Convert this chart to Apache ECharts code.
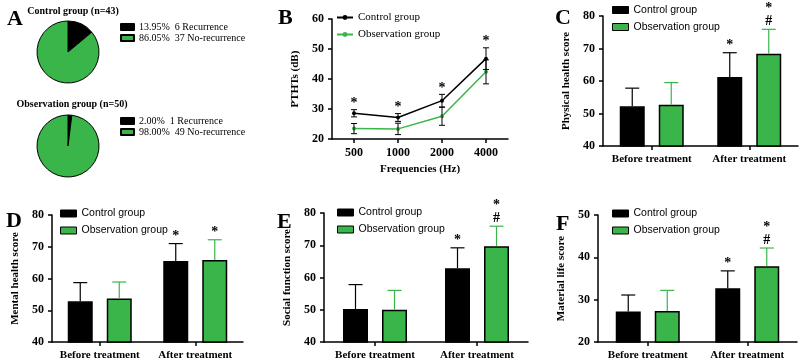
<!DOCTYPE html>
<html>
<head>
<meta charset="utf-8">
<script src="https://cdn.jsdelivr.net/npm/echarts@6/dist/echarts.min.js"></script>
<style>
html, body { margin: 0; padding: 0; background: #fff; }
#wrap { position: relative; width: 800px; height: 361px; overflow: hidden; }
.panel { position: absolute; }
</style>
</head>
<body>
<div id="wrap">
  <div id="pa" class="panel" style="left:0;top:0;width:270px;height:180px"></div>
  <div id="pb" class="panel" style="left:270px;top:0;width:250px;height:180px"></div>
  <div id="pc" class="panel" style="left:520px;top:0;width:280px;height:180px"></div>
  <div id="pd" class="panel" style="left:0;top:180px;width:265px;height:181px"></div>
  <div id="pe" class="panel" style="left:265px;top:180px;width:265px;height:181px"></div>
  <div id="pf" class="panel" style="left:530px;top:180px;width:270px;height:181px"></div>
</div>
<script>
// A - recurrence
const pieNames = ['Recurrence', 'No-recurrence']
const pieControl = [6, 37]
const pieObservation = [1, 49]

// B - PTHTs
const freqs = ['500', '1000', '2000', '4000']
const pthtControl = [28.6, 27.2, 32.8, 46.8]
const pthtControlSd = [1.2, 1.3, 2.1, 3.6]
const pthtObs = [23.5, 23.4, 27.6, 42.4]
const pthtObsSd = [1.7, 1.9, 3.0, 4.0]
const pthtSig = ['*', '*', '*', '*']

// C-F - quality of life scores
const stages = ['Before treatment', 'After treatment']
const physControl = [52.2, 61.2]
const physControlSd = [5.6, 7.5]
const physObs = [52.7, 68.4]
const physObsSd = [6.8, 7.5]
const physSigControl = ['', '*']
const physSigObs = ['', '*\n#']

const mentControl = [52.8, 65.5]
const mentControlSd = [5.9, 5.5]
const mentObs = [53.7, 65.8]
const mentObsSd = [5.2, 6.4]
const mentSigControl = ['', '*']
const mentSigObs = ['', '*']

const socControl = [50.2, 62.9]
const socControlSd = [7.6, 6.3]
const socObs = [50.0, 69.7]
const socObsSd = [6.0, 6.2]
const socSigControl = ['', '*']
const socSigObs = ['', '*\n#']

const matControl = [27.2, 32.7]
const matControlSd = [3.9, 4.1]
const matObs = [27.3, 37.9]
const matObsSd = [4.9, 4.3]
const matSigControl = ['', '*']
const matSigObs = ['', '*\n#']

const GREEN = '#39b54a'
const SERIF = '"Liberation Serif", "DejaVu Serif", serif'
const SANS = '"Liberation Sans", Arial, sans-serif'
const letterStyle = { fontFamily: SERIF, fontWeight: 'bold', fontSize: 22, color: '#000' }
const axisLine = { show: true, lineStyle: { color: '#000', width: 1.5 } }
const axisTick = { show: true, length: 4, lineStyle: { color: '#000', width: 1.5 } }
const boldLabel = { color: '#000', fontFamily: SERIF, fontWeight: 'bold', fontSize: 11 }
const tickLabel = { color: '#000', fontFamily: SERIF, fontWeight: 'bold', fontSize: 12 }

// ---------- A ----------
const pct = (arr, i) => (arr[i] / arr.reduce((a, b) => a + b, 0) * 100).toFixed(2) + '%'
const pieLegend = (arr, top) => ({
  left: 120,
  top: top,
  padding: 0,
  orient: 'vertical',
  icon: 'rect',
  itemWidth: 13,
  itemHeight: 6,
  itemGap: 1,
  data: pieNames,
  textStyle: { fontFamily: SERIF, fontSize: 10, color: '#000', lineHeight: 10 },
  formatter: name => {
    const i = pieNames.indexOf(name)
    return pct(arr, i) + '  ' + arr[i] + ' ' + name
  }
})
const pieSeries = (arr, cy) => ({
  type: 'pie',
  center: [68, cy],
  radius: 31,
  startAngle: 90,
  label: { show: false },
  labelLine: { show: false },
  silent: true,
  itemStyle: { borderColor: '#000', borderWidth: 1 },
  data: pieNames.map((n, i) => ({ name: n, value: arr[i], itemStyle: { color: i === 0 ? '#000' : GREEN } }))
})
const chartA = echarts.init(document.getElementById('pa'))
chartA.setOption({
  animation: false,
  title: [
    { text: 'A', left: 2, top: 3, textStyle: letterStyle },
    { text: 'Control group (n=43)', left: 68, textAlign: 'center', top: 1,
      textStyle: { fontFamily: SERIF, fontWeight: 'bold', fontSize: 10, color: '#000' } },
    { text: 'Observation group (n=50)', left: 67, textAlign: 'center', top: 94,
      textStyle: { fontFamily: SERIF, fontWeight: 'bold', fontSize: 10, color: '#000' } }
  ],
  legend: [pieLegend(pieControl, 22), pieLegend(pieObservation, 116)],
  series: [pieSeries(pieControl, 52), pieSeries(pieObservation, 146)]
})

// ---------- B ----------
const lineErr = (means, sds, color, sig) => ({
  type: 'custom',
  silent: true,
  z: 4,
  data: means.map((m, i) => [i, m, sds[i]]),
  encode: { x: 0, y: 1 },
  renderItem: (params, api) => {
    const lo = api.coord([api.value(0), api.value(1) - api.value(2)])
    const hi = api.coord([api.value(0), api.value(1) + api.value(2)])
    const x = lo[0]
    const style = { stroke: color, lineWidth: 1 }
    const children = [
      { type: 'line', shape: { x1: x, y1: lo[1], x2: x, y2: hi[1] }, style },
      { type: 'line', shape: { x1: x - 3, y1: lo[1], x2: x + 3, y2: lo[1] }, style },
      { type: 'line', shape: { x1: x - 3, y1: hi[1], x2: x + 3, y2: hi[1] }, style }
    ]
    if (sig) {
      children.push({ type: 'text', x: x, y: hi[1] + 1,
        style: { text: sig[params.dataIndex], align: 'center', verticalAlign: 'bottom',
          font: 'bold 14px ' + SERIF, fill: '#000' } })
    }
    return { type: 'group', children }
  }
})
const chartB = echarts.init(document.getElementById('pb'))
chartB.setOption({
  animation: false,
  title: { text: 'B', left: 3, top: 2, textStyle: letterStyle },
  legend: {
    left: 66, top: 12, padding: 0, orient: 'vertical', itemWidth: 16, itemHeight: 6, itemGap: 6,
    textStyle: { fontFamily: SERIF, fontSize: 11, color: '#000', lineHeight: 11 },
    data: ['Control group', 'Observation group']
  },
  grid: { left: 62, width: 176, top: 19, bottom: 33 },
  xAxis: {
    type: 'category', data: freqs, axisLine, axisTick: { ...axisTick, alignWithLabel: true },
    axisLabel: { ...tickLabel, margin: 8, interval: 0 },
    name: 'Frequencies (Hz)', nameLocation: 'middle', nameGap: 24, nameTextStyle: boldLabel
  },
  yAxis: {
    type: 'value', min: 20, max: 60, interval: 10, splitLine: { show: false },
    axisLine, axisTick, axisLabel: tickLabel,
    name: 'PTHTs (dB)', nameLocation: 'middle', nameGap: 30, nameTextStyle: boldLabel
  },
  series: [
    { type: 'line', name: 'Control group', data: pthtControl, symbol: 'circle', symbolSize: 4,
      lineStyle: { color: '#000', width: 1.5 }, itemStyle: { color: '#000' } },
    { type: 'line', name: 'Observation group', data: pthtObs, symbol: 'circle', symbolSize: 4,
      lineStyle: { color: GREEN, width: 1.5 }, itemStyle: { color: GREEN } },
    lineErr(pthtControl, pthtControlSd, '#000', pthtSig),
    lineErr(pthtObs, pthtObsSd, '#000', null)
  ]
})

// ---------- C-F ----------
const barErr = (means, sds, color, dx, sig) => ({
  type: 'custom',
  silent: true,
  z: 4,
  data: means.map((m, i) => [i, m, sds[i]]),
  encode: { x: 0, y: 1 },
  renderItem: (params, api) => {
    const base = api.coord([api.value(0), api.value(1)])
    const top = api.coord([api.value(0), api.value(1) + api.value(2)])
    const x = base[0] + dx
    const style = { stroke: color, lineWidth: 1.2 }
    return {
      type: 'group',
      children: [
        { type: 'line', shape: { x1: x, y1: base[1], x2: x, y2: top[1] }, style },
        { type: 'line', shape: { x1: x - 7, y1: top[1], x2: x + 7, y2: top[1] }, style },
        { type: 'text', x: x, y: top[1] - 1,
          style: { text: sig[params.dataIndex], align: 'center', verticalAlign: 'bottom',
            font: 'bold 14px ' + SERIF, lineHeight: 13, fill: '#000' } }
      ]
    }
  }
})

function barPanel (id, cfg) {
  const chart = echarts.init(document.getElementById(id))
  chart.setOption({
    animation: false,
    title: { text: cfg.letter, left: cfg.letterLeft, top: cfg.letterTop, textStyle: letterStyle },
    legend: {
      left: cfg.legendLeft, top: cfg.legendTop, padding: 0, orient: 'vertical', icon: 'rect',
      itemWidth: 16, itemHeight: 7, itemGap: 6,
      itemStyle: { borderColor: '#000', borderWidth: 1 },
      textStyle: { fontFamily: SANS, fontSize: 10.5, color: '#000', lineHeight: 11 },
      data: ['Control group', 'Observation group']
    },
    grid: cfg.grid,
    xAxis: {
      type: 'category', data: stages, axisLine,
      axisTick: { ...axisTick, alignWithLabel: true },
      axisLabel: { ...boldLabel, margin: 8, interval: 0 }
    },
    yAxis: {
      type: 'value', min: cfg.min, max: cfg.max, interval: 10, splitLine: { show: false },
      axisLine, axisTick, axisLabel: tickLabel,
      name: cfg.name, nameLocation: 'middle', nameGap: cfg.nameGap, nameTextStyle: boldLabel
    },
    series: [
      { type: 'bar', name: 'Control group', data: cfg.control, barWidth: 25, barGap: '56%',
        itemStyle: { color: '#000', borderColor: '#000', borderWidth: 1.5 } },
      { type: 'bar', name: 'Observation group', data: cfg.obs, barWidth: 25, barGap: '56%',
        itemStyle: { color: GREEN, borderColor: '#000', borderWidth: 1.5 } },
      barErr(cfg.control, cfg.controlSd, '#000', -19.5, cfg.sigControl),
      barErr(cfg.obs, cfg.obsSd, GREEN, 19.5, cfg.sigObs)
    ]
  })
  return chart
}

barPanel('pc', {
  letter: 'C', letterLeft: 30, letterTop: 2,
  legendLeft: 92, legendTop: 4.5,
  grid: { left: 83, width: 195, top: 16, bottom: 34 },
  min: 40, max: 80, name: 'Physical health score', nameGap: 27,
  control: physControl, controlSd: physControlSd, obs: physObs, obsSd: physObsSd,
  sigControl: physSigControl, sigObs: physSigObs
})
barPanel('pd', {
  letter: 'D', letterLeft: 1, letterTop: 25,
  legendLeft: 60, legendTop: 28,
  grid: { left: 52, width: 191, top: 35, bottom: 18 },
  min: 40, max: 80, name: 'Mental health score', nameGap: 27,
  control: mentControl, controlSd: mentControlSd, obs: mentObs, obsSd: mentObsSd,
  sigControl: mentSigControl, sigObs: mentSigObs
})
barPanel('pe', {
  letter: 'E', letterLeft: 7, letterTop: 26,
  legendLeft: 72, legendTop: 27,
  grid: { left: 59, width: 204, top: 33, bottom: 18 },
  min: 40, max: 80, name: 'Social function score', nameGap: 24,
  control: socControl, controlSd: socControlSd, obs: socObs, obsSd: socObsSd,
  sigControl: socSigControl, sigObs: socSigObs
})
barPanel('pf', {
  letter: 'F', letterLeft: 21, letterTop: 28,
  legendLeft: 82, legendTop: 28,
  grid: { left: 68, width: 199, top: 35, bottom: 18 },
  min: 20, max: 50, name: 'Material life score', nameGap: 23,
  control: matControl, controlSd: matControlSd, obs: matObs, obsSd: matObsSd,
  sigControl: matSigControl, sigObs: matSigObs
})
</script>
</body>
</html>
